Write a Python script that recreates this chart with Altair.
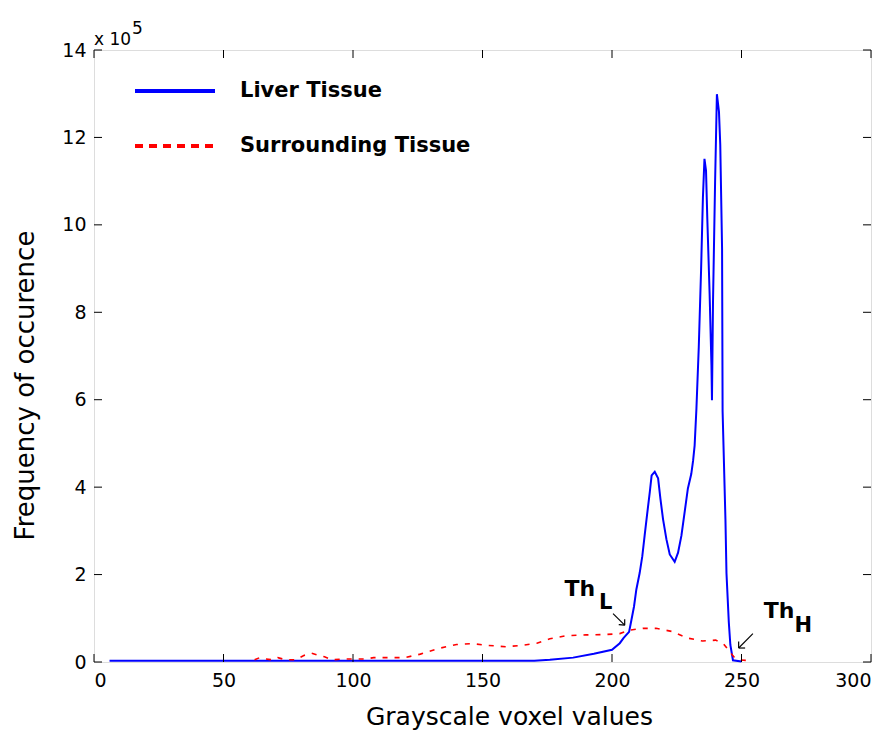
import altair as alt
import pandas as pd

# ---------------- data (frequency in units of 1e5) ----------------
liver_x = [6, 100, 170, 176, 185, 193, 200, 203, 204.5, 206.6, 207.5, 208.5, 209.4, 210.7,
           211.7, 212.6, 213.5, 214.6, 215.3, 216.5, 217.8, 218.7, 219.7, 221.0, 222.3, 224.2,
           225.5, 226.8, 228.1, 229.3, 230.6, 231.3, 231.9, 232.6, 233.5, 234.4, 235.1, 235.7,
           236.3, 236.8, 237.7, 238.4, 238.6, 239.0, 239.8, 240.5, 241.3, 241.8, 242.5, 242.7,
           243.8, 244.2, 245.1, 245.7, 246.7, 250.0]
liver_y = [0.03, 0.03, 0.03, 0.05, 0.10, 0.19, 0.28, 0.43, 0.55, 0.69, 0.96, 1.27, 1.66, 2.04,
           2.42, 2.89, 3.35, 3.89, 4.27, 4.35, 4.20, 3.73, 3.27, 2.81, 2.46, 2.29,
           2.50, 2.89, 3.45, 3.97, 4.30, 4.60, 4.95, 5.80, 7.20, 8.98, 10.62, 11.51,
           11.24, 10.14, 8.40, 6.78, 5.99, 8.24, 10.97, 12.99, 12.59, 11.83, 9.45, 5.74,
           3.26, 2.03, 0.91, 0.39, 0.04, 0.01]

surr_x = [62, 64, 66, 69, 71, 74, 78, 81, 84, 87, 89, 92, 97, 100, 105, 108, 113, 120, 126,
          133, 140, 146, 152, 159, 165, 171, 176, 182, 190, 198, 203, 207, 212, 217, 223,
          229, 235, 240, 243, 245, 247, 249, 253]
surr_y = [0.05, 0.10, 0.07, 0.05, 0.10, 0.05, 0.05, 0.15, 0.20, 0.15, 0.12, 0.05, 0.07, 0.07,
          0.07, 0.10, 0.10, 0.10, 0.18, 0.31, 0.40, 0.42, 0.38, 0.35, 0.38, 0.43, 0.53, 0.60,
          0.62, 0.63, 0.65, 0.73, 0.77, 0.77, 0.70, 0.55, 0.48, 0.50, 0.42, 0.27, 0.12, 0.05,
          0.03]

x_ticks = [0, 50, 100, 150, 200, 250, 300]
y_ticks = [0, 2, 4, 6, 8, 10, 12, 14]

legend_labels = ["Liver Tissue", "Surrounding Tissue"]
x_title = "Grayscale voxel values"
y_title = "Frequency of occurence"

# annotations: main text, subscript, arrows (data units)
ann_main = ["Th", "Th"]
ann_main_x = [181.7, 258.6]
ann_main_y = [1.50, 1.00]
ann_sub = ["L", "H"]
ann_sub_x = [195.0, 270.5]
ann_sub_y = [1.22, 0.68]
arrow_tail_x = [200.4, 254.4]
arrow_tail_y = [1.107, 0.65]
arrow_tip_x = [204.9, 248.9]
arrow_tip_y = [0.842, 0.32]
head1_x = [202.6, 251.4]
head1_y = [0.856, 0.32]
head2_x = [204.9, 248.9]
head2_y = [0.977, 0.47]

W, H = 777, 612
FONT = "DejaVu Sans"

liver_df = pd.DataFrame({"x": liver_x, "y": liver_y})
surr_df = pd.DataFrame({"x": surr_x, "y": surr_y})

xscale = alt.Scale(domain=[0, 300], nice=False, zero=False)
yscale = alt.Scale(domain=[0, 14], nice=False)

xaxis = alt.Axis(values=x_ticks, title=x_title, grid=False, domain=False, ticks=False,
                 labelFont=FONT, labelFontSize=19, labelPadding=9, labelColor="black",
                 titleFont=FONT, titleFontSize=25, titleFontWeight="normal",
                 titlePadding=14, titleColor="black", titleX=415, titleAlign="center")
yaxis = alt.Axis(values=y_ticks, title=y_title, grid=False, domain=False, ticks=False,
                 labelFont=FONT, labelFontSize=19, labelPadding=8, labelColor="black",
                 titleFont=FONT, titleFontSize=26, titleFontWeight="normal",
                 titlePadding=23, titleColor="black", titleY=335, titleAlign="center")

liver = alt.Chart(liver_df).mark_line(color="#0000ff", strokeWidth=2).encode(
    x=alt.X("x:Q", scale=xscale, axis=xaxis),
    y=alt.Y("y:Q", scale=yscale, axis=yaxis),
)
surr = alt.Chart(surr_df).mark_line(color="#ff0000", strokeWidth=1.6, strokeDash=[5, 7]).encode(
    x="x:Q", y="y:Q"
)

xt = pd.DataFrame({"x": x_ticks})
yt = pd.DataFrame({"y": y_ticks})
tick_style = dict(color="black", strokeWidth=1)
tb = alt.Chart(xt).mark_rule(**tick_style).encode(x="x:Q", y=alt.value(H), y2=alt.value(H - 8))
tt = alt.Chart(xt).mark_rule(**tick_style).encode(x="x:Q", y=alt.value(0), y2=alt.value(8))
tl = alt.Chart(yt).mark_rule(**tick_style).encode(y="y:Q", x=alt.value(0), x2=alt.value(8))
tr = alt.Chart(yt).mark_rule(**tick_style).encode(y="y:Q", x=alt.value(W), x2=alt.value(W - 8))

main_df = pd.DataFrame({"x": ann_main_x, "y": ann_main_y, "t": ann_main})
sub_df = pd.DataFrame({"x": ann_sub_x, "y": ann_sub_y, "t": ann_sub})
txt_main = alt.Chart(main_df).mark_text(font=FONT, fontSize=22, fontWeight="bold", align="left",
                                        baseline="alphabetic", color="black").encode(
    x="x:Q", y="y:Q", text="t:N")
txt_sub = alt.Chart(sub_df).mark_text(font=FONT, fontSize=21, fontWeight="bold", align="left",
                                      baseline="alphabetic", color="black").encode(
    x="x:Q", y="y:Q", text="t:N")

arrow_rows = []
for i in range(len(arrow_tail_x)):
    arrow_rows.append({"x": arrow_tail_x[i], "y": arrow_tail_y[i], "x2": arrow_tip_x[i], "y2": arrow_tip_y[i]})
    arrow_rows.append({"x": head1_x[i], "y": head1_y[i], "x2": arrow_tip_x[i], "y2": arrow_tip_y[i]})
    arrow_rows.append({"x": head2_x[i], "y": head2_y[i], "x2": arrow_tip_x[i], "y2": arrow_tip_y[i]})
arrows = alt.Chart(pd.DataFrame(arrow_rows)).mark_rule(color="black", strokeWidth=1.2).encode(
    x="x:Q", y="y:Q", x2="x2:Q", y2="y2:Q")

dummy = pd.DataFrame({"d": [0]})
leg_layers = []
leg_colors = ["#0000ff", "#ff0000"]
leg_dash = [[1, 0], [8, 6]]
for i, lab in enumerate(legend_labels):
    yy = 41 + 55 * i
    leg_layers.append(
        alt.Chart(dummy).mark_rule(color=leg_colors[i], strokeWidth=4, strokeDash=leg_dash[i]).encode(
            x=alt.value(41), x2=alt.value(121), y=alt.value(yy))
    )
    leg_layers.append(
        alt.Chart(dummy).mark_text(text=lab, font=FONT, fontSize=21, fontWeight="bold", align="left",
                                   baseline="middle", color="black").encode(
            x=alt.value(146), y=alt.value(yy))
    )

exp1 = alt.Chart(dummy).mark_text(text="x 10", font=FONT, fontSize=17, align="left",
                                  baseline="alphabetic", color="black").encode(
    x=alt.value(0), y=alt.value(-5))
exp2 = alt.Chart(dummy).mark_text(text="5", font=FONT, fontSize=17, align="left",
                                  baseline="alphabetic", color="black").encode(
    x=alt.value(38), y=alt.value(-16))

chart = alt.layer(liver, surr, tb, tt, tl, tr, txt_main, txt_sub, arrows, *leg_layers, exp1, exp2).properties(
    width=W, height=H, autosize="none",
    padding={"left": 86, "top": 42, "right": 10, "bottom": 72},
).configure_view(stroke="black", strokeWidth=1.2).configure(background="white")

chart.save("out.html", embed_options={"renderer": "svg", "actions": False})
